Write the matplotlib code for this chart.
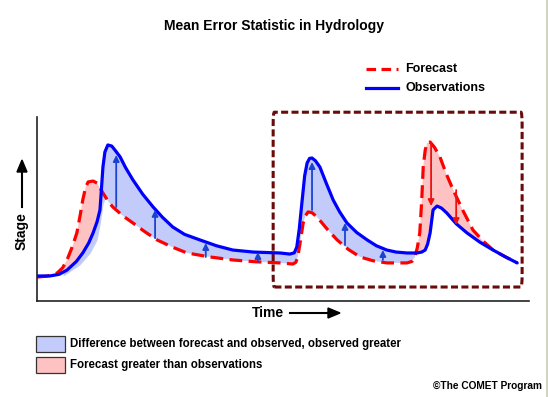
import numpy as np
import matplotlib
matplotlib.use("Agg")
import matplotlib.pyplot as plt
from matplotlib.patches import Rectangle, FancyBboxPatch
from matplotlib.lines import Line2D

plt.rcParams['font.family'] = ['Liberation Sans', 'DejaVu Sans']

# observed stage hydrograph (time 0-100, stage 0-10)
obs_t = [0, 2.6, 4.5, 6.1, 8.0, 9.3, 10.5, 11.4, 12.2, 12.8, 13.1, 13.4, 13.8, 14.4,
         15.2, 16.0, 16.9, 18.0, 19.5, 21.5, 23.6, 25.5, 27.6, 30.0, 33.1, 36.5, 39.8,
         44.0, 49.4, 51.4, 52.3, 52.8, 53.3, 53.9, 54.4, 54.9, 55.4, 55.9, 56.6, 57.5,
         58.8, 60.2, 61.5, 63.0, 65.0, 67.1, 69.0, 71.1, 73.0, 75.2, 77.2, 78.2, 78.9,
         79.4, 79.9, 80.5, 81.3, 82.2, 83.3, 85.2, 87.4, 90.0, 92.7, 95.2, 97.6]
obs_s = [1.36, 1.36, 1.45, 1.68, 2.15, 2.61, 3.15, 3.70, 4.30, 4.95, 6.10, 7.28, 8.10, 8.48,
         8.42, 8.15, 7.83, 7.25, 6.58, 5.80, 5.11, 4.55, 4.02, 3.62, 3.32, 3.00, 2.77,
         2.66, 2.61, 2.55, 2.62, 2.93, 3.90, 5.49, 6.80, 7.50, 7.75, 7.77, 7.62, 7.28,
         6.40, 5.49, 4.85, 4.24, 3.72, 3.32, 3.00, 2.77, 2.66, 2.61, 2.61, 2.66, 2.77,
         3.10, 3.70, 4.95, 5.16, 5.05, 4.78, 4.20, 3.70, 3.20, 2.77, 2.40, 2.07]

# forecast stage hydrograph
fc_t = [0, 2.0, 4.1, 5.2, 6.1, 7.1, 8.1, 8.8, 9.3, 9.9, 10.4, 11.4, 12.2, 12.8, 13.4,
        14.4, 15.4, 17.5, 19.5, 22.0, 24.4, 27.5, 30.5, 35.0, 39.8, 44.5, 49.4, 52.0,
        52.6, 53.0, 53.5, 54.1, 54.6, 55.1, 55.9, 56.9, 59.0, 61.0, 63.3, 65.7, 68.4,
        71.1, 75.2, 76.2, 76.8, 77.3, 77.8, 78.2, 78.5, 78.9, 79.3, 79.9, 80.8, 81.9,
        83.2, 84.6, 86.6, 88.6, 90.7, 92.7, 95.2, 97.6]
fc_s = [1.30, 1.35, 1.52, 1.80, 2.23, 2.90, 3.70, 4.70, 5.49, 6.20, 6.47, 6.52, 6.41, 6.15, 5.87,
        5.45, 5.11, 4.62, 4.24, 3.75, 3.32, 2.93, 2.61, 2.40, 2.23, 2.13, 2.07, 2.01,
        2.10, 2.39, 3.20, 4.24, 4.65, 4.84, 4.80, 4.57, 3.90, 3.32, 2.80, 2.39, 2.18,
        2.07, 2.07, 2.15, 2.39, 2.90, 3.70, 5.50, 7.28, 8.20, 8.59, 8.64, 8.35, 7.83,
        6.90, 6.03, 4.90, 3.86, 3.25, 2.77, 2.40, 2.07]

# extra light-blue shading on the rising limb of the first event
shade_t = [5.3, 8.7, 10.8, 12.2, 12.8, 13.4, 14.0, 14.6]
shade_s = [1.36, 1.96, 2.61, 3.32, 4.13, 5.22, 5.71, 5.50]

# difference arrows: time, forecast stage, observed stage
arrow_t = [16.1, 24.0, 34.3, 44.9, 55.9, 62.6, 70.3, 80.1, 85.2]
arrow_fc = [5.11, 3.42, 2.39, 2.12, 4.95, 3.04, 2.23, 8.59, 6.03]
arrow_obs = [7.93, 4.95, 3.15, 2.66, 7.55, 4.24, 2.77, 5.16, 4.13]

W, H = 548, 397
fig = plt.figure(figsize=(W / 100, H / 100), dpi=100)
ax = fig.add_axes([37 / W, 1 - 301 / H, (529 - 37) / W, (301 - 117) / H])
ax.set_xlim(0, 100)
ax.set_ylim(0, 10)

blue_fill = '#c3cbfb'
red_fill = '#ffc2c2'

grid = np.linspace(0, 97.6, 2000)
o = np.interp(grid, obs_t, obs_s)
f = np.interp(grid, fc_t, fc_s)
ax.fill_between(grid, f, o, where=o >= f, color=blue_fill, lw=0, interpolate=True)
ax.fill_between(grid, f, o, where=f >= o, color=red_fill, lw=0, interpolate=True)
sg = np.linspace(shade_t[0], shade_t[-1], 300)
ax.fill_between(sg, np.interp(sg, shade_t, shade_s), np.interp(sg, obs_t, obs_s),
                color=blue_fill, lw=0)

for t, a, b in zip(arrow_t, arrow_fc, arrow_obs):
    col = '#1a44d0' if b > a else '#ee1111'
    ax.annotate('', xy=(t, b), xytext=(t, a),
                arrowprops=dict(arrowstyle='-|>', color=col, lw=1.3,
                                mutation_scale=9, shrinkA=0, shrinkB=0))

ax.plot(fc_t, fc_s, color='#ff0000', lw=2.3, dashes=(4, 2), solid_joinstyle='round')
ax.plot(obs_t, obs_s, color='#0000ff', lw=2.3, solid_joinstyle='round', solid_capstyle='round')

box = FancyBboxPatch((48.0, 0.76), 50.6, 9.5, boxstyle='round,pad=0,rounding_size=0.25',
                     fill=False, ec='#6b0a0a', lw=2.2, ls=(0, (2.3, 1.1)), clip_on=False,
                     mutation_aspect=2.7)
ax.add_patch(box)

for s in ['top', 'right']:
    ax.spines[s].set_visible(False)
for s in ['left', 'bottom']:
    ax.spines[s].set_color('#222222')
    ax.spines[s].set_linewidth(1.2)
ax.set_xticks([])
ax.set_yticks([])

# title and axis labels
fig.text(274 / W, 1 - 26 / H, 'Mean Error Statistic in Hydrology', ha='center', va='center',
         fontsize=10, fontweight='bold')
fig.text(252 / W, 1 - 313 / H, 'Time', ha='left', va='center', fontsize=10, fontweight='bold')
fig.add_artist(Line2D([290 / W, 335 / W], [1 - 313 / H] * 2, color='black', lw=1.5))
fig.text(22 / W, 1 - 231 / H, 'Stage', ha='center', va='center', rotation=90,
         fontsize=10, fontweight='bold')
fig.add_artist(Line2D([22 / W] * 2, [1 - 207 / H, 1 - 165 / H], color='black', lw=1.5))
fig.patches.append(plt.Polygon([[17 / W, 1 - 172 / H], [27 / W, 1 - 172 / H], [22 / W, 1 - 160 / H]],
                               closed=True, color='black', transform=fig.transFigure))
fig.patches.append(plt.Polygon([[328 / W, 1 - 308 / H], [328 / W, 1 - 318 / H], [340 / W, 1 - 313 / H]],
                               closed=True, color='black', transform=fig.transFigure))

# line legend
fig.add_artist(Line2D([366 / W, 398 / W], [1 - 69 / H] * 2, color='#ff0000', lw=2.3, dashes=(3, 1.7)))
fig.add_artist(Line2D([366 / W, 398 / W], [1 - 88 / H] * 2, color='#0000ff', lw=2.3))
fig.text(405 / W, 1 - 69 / H, 'Forecast', ha='left', va='center', fontsize=9, fontweight='bold')
fig.text(405 / W, 1 - 88 / H, 'Observations', ha='left', va='center', fontsize=9, fontweight='bold')

# shading legend
fig.patches.append(Rectangle((36 / W, 1 - 352 / H), 29 / W, 16 / H, fc=blue_fill, ec='#333333',
                             lw=0.9, transform=fig.transFigure))
fig.patches.append(Rectangle((36 / W, 1 - 373 / H), 29 / W, 16 / H, fc=red_fill, ec='#333333',
                             lw=0.9, transform=fig.transFigure))
fig.text(70 / W, 1 - 344 / H, 'Difference between forecast and observed, observed greater',
         ha='left', va='center', fontsize=8.3, fontweight='bold')
fig.text(70 / W, 1 - 365 / H, 'Forecast greater than observations',
         ha='left', va='center', fontsize=8.3, fontweight='bold')
fig.text(542 / W, 1 - 386 / H, '\u00a9The COMET Program', ha='right', va='center',
         fontsize=7.3, fontweight='bold')

fig.add_artist(Line2D([546.5 / W] * 2, [0, 1], color='#c8ccb0', lw=1.2))

fig.savefig('out.png', dpi=100)
